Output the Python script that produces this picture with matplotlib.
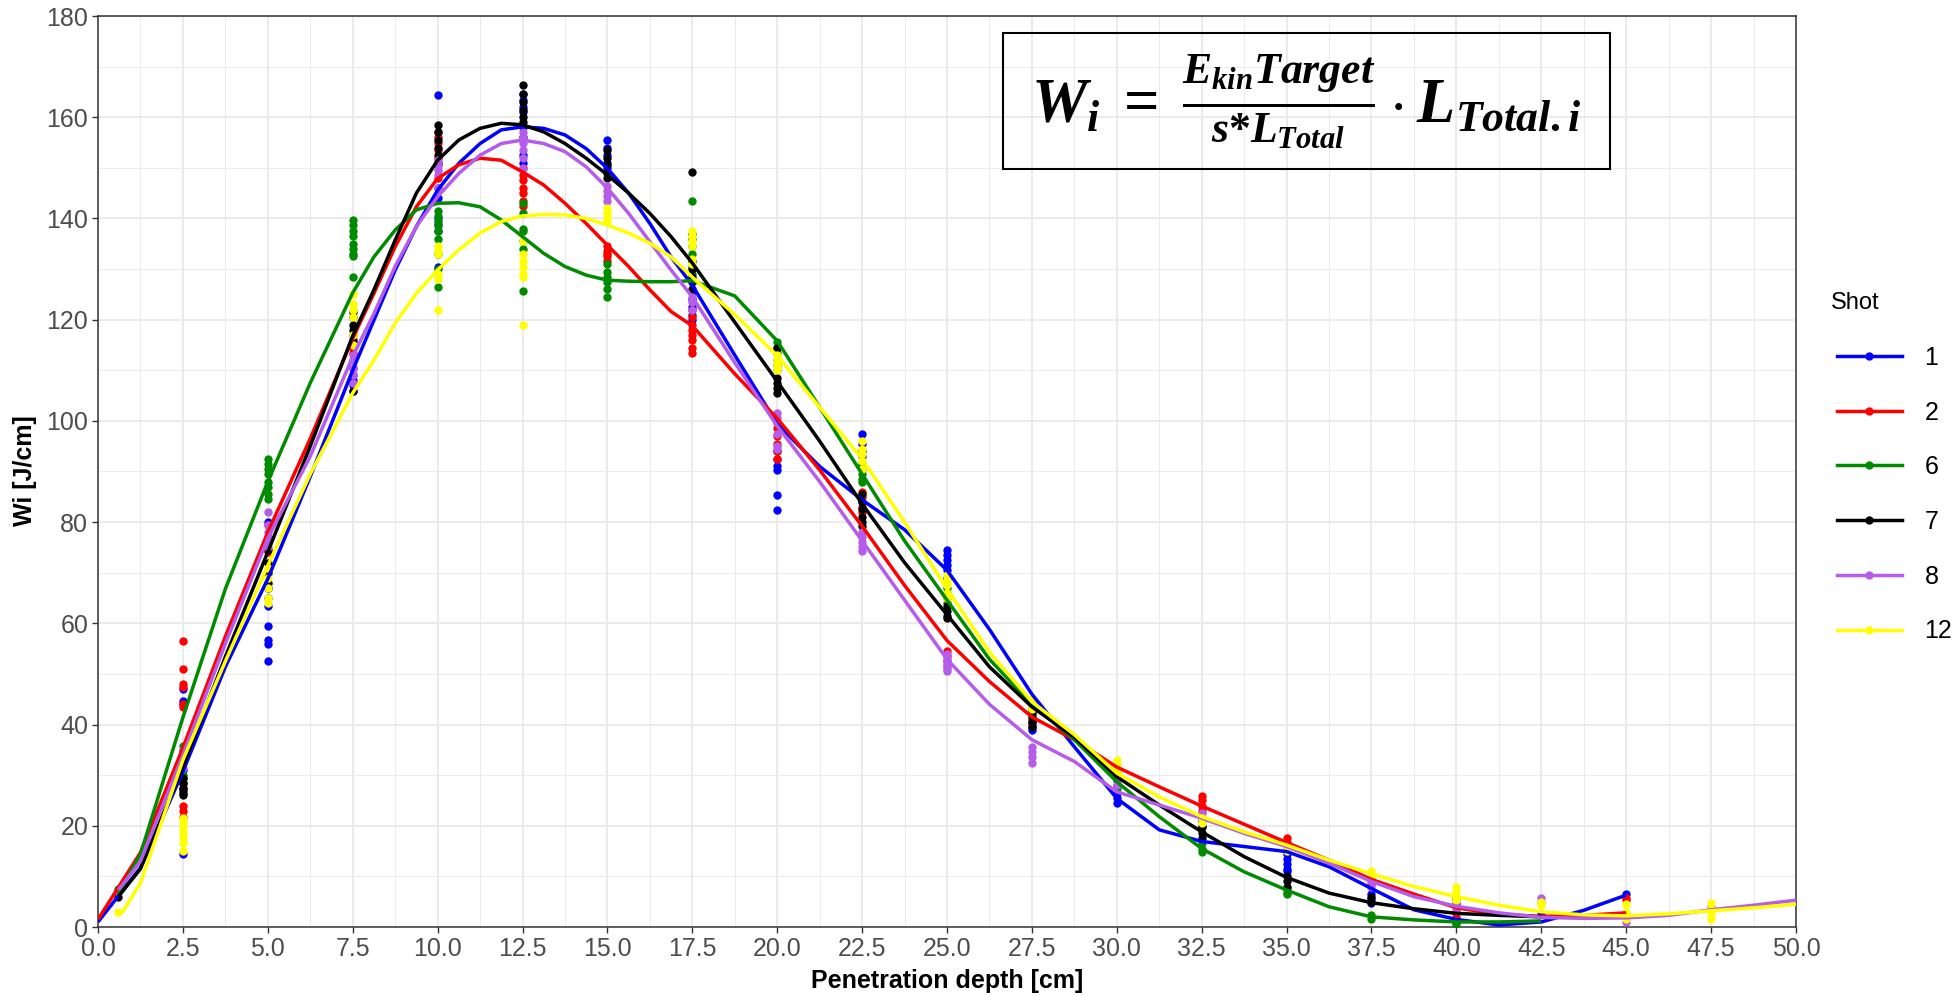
import numpy as np
import matplotlib
matplotlib.use("Agg")
import matplotlib.pyplot as plt
from matplotlib.lines import Line2D
from matplotlib.patches import Rectangle
from matplotlib.ticker import MultipleLocator, FormatStrFormatter

# shots and their colours
shots = ["1", "2", "6", "7", "8", "12"]
colors = ["#0000FF", "#FF0000", "#008B00", "#000000", "#B55CEB", "#FFFF00"]

# measured points per shot: depth [cm] -> Wi values [J/cm]
pts_1 = {2.5: [47, 44.7, 44, 33, 31, 14.4], 5: [80, 67, 65, 63.5, 59.5, 56.7, 56, 52.5],
         7.5: [110.5, 109, 108, 107, 106], 10: [164.4, 146, 144, 140, 139, 137.5, 130.5],
         12.5: [164.5, 163.5, 162, 161, 158, 156, 152.5, 151], 15: [155.5, 154, 152.5, 151, 150],
         17.5: [125.5, 124, 122.5, 121, 120], 20: [94, 92.5, 91, 90.3, 85.4, 82.4],
         22.5: [97.4, 95.5, 94, 93], 25: [74.5, 73.5, 72.5, 71.5, 70.5, 69], 27.5: [40.5, 39.5, 39],
         30: [26.5, 25.5, 24.5], 32.5: [21, 20], 35: [14.5, 13.5, 12.5, 11.5, 11],
         37.5: [6.5, 5.5, 4.7], 40: [1.5, 1], 42.5: [2.5], 45: [6.5]}
pts_2 = {2.5: [56.6, 51, 48, 47.5, 44, 43.5, 28.5, 27.5, 24, 23, 21.7], 5: [79.5, 77, 74],
         7.5: [117, 115.5, 114.5, 113.5], 10: [157, 156, 155, 153.5, 152, 150.5, 148],
         12.5: [150, 148.5, 147.5, 146, 145, 143.5, 142.5], 15: [134.5, 133.5, 133, 132.5, 131.5],
         17.5: [122, 120.5, 119, 118, 117, 116, 114.5, 113.5], 20: [98.5, 97, 95.5, 94, 92.5],
         22.5: [86, 85, 84, 83, 82], 25: [54.5, 53.5, 52.5, 51.5], 27.5: [42, 41, 40],
         30: [30.5, 29.5], 32.5: [25.8, 25, 24, 23], 35: [17.5, 16.5, 16], 37.5: [9.5, 8.5],
         40: [3, 2], 45: [5.7, 5.3]}
pts_6 = {0.6: [7.5], 2.5: [35.8, 35, 33.5, 30, 29.4, 28.5], 5: [92.5, 91.5, 90.5, 89.5, 88, 87, 85.5, 84.5],
         7.5: [139.7, 138.8, 137.5, 136.5, 135, 134, 133, 132.5, 128.5],
         10: [141.5, 140.5, 139.5, 138.5, 137.5, 136, 133, 130, 126.5],
         12.5: [143, 141, 138, 137.5, 135.5, 134, 125.7], 15: [131, 129.5, 128.5, 127.5, 126, 124.5],
         17.5: [143.4, 137, 136, 134.5, 133, 130.5, 129], 20: [115.5, 114.5, 113.5, 112, 111, 110],
         22.5: [91.5, 90.5, 89.5, 88.5, 88], 25: [67, 66, 65, 64], 27.5: [44, 43, 42],
         30: [29, 28, 27.5], 32.5: [16.6, 15.5, 14.8], 35: [7.7, 7, 6.5], 37.5: [2.4, 1.5], 40: [1, 0.5]}
pts_7 = {0.6: [6], 2.5: [29.5, 28.5, 27.5, 27, 26.5, 26], 5: [74.5, 72, 70, 68, 67],
         7.5: [121.5, 120.5, 119, 118, 116, 106], 10: [158.5, 157, 155.5, 154, 152.5, 151],
         12.5: [166.4, 164.5, 163, 161.5, 160, 159], 15: [153.5, 152, 150.5, 149, 148],
         17.5: [149.2, 131.5, 130, 128.5, 127.5, 126], 20: [114.4, 108.5, 107.5, 106.5, 105.5],
         22.5: [85.5, 84, 82.5, 81, 80, 79.2], 25: [63.5, 62.5, 61.5, 61], 27.5: [42.5, 41.5, 40.5, 39.5],
         30: [30, 29], 32.5: [19.8, 18.5, 17.6], 35: [10, 9, 8], 37.5: [6, 5], 40: [5.5, 4.5]}
pts_8 = {0.6: [7], 2.5: [35, 33, 31.5], 5: [82, 79.5, 78, 77, 76, 75], 7.5: [113, 112, 110.5, 109, 107.5],
         10: [151.5, 150.5, 149.5, 148.5, 146], 12.5: [157, 156, 155, 153.5, 152, 150],
         15: [146.5, 145.5, 144.5, 143.5], 17.5: [124.5, 123.5, 122],
         20: [101.5, 100.5, 99.5, 97.5, 95, 94.5], 22.5: [78, 77, 76, 75, 74.2],
         25: [54, 53, 52, 51, 50.5], 27.5: [35.5, 34.5, 33.5, 32.5], 30: [29, 28], 32.5: [22.5, 21.5],
         35: [15.5], 37.5: [9, 8], 40: [4.8, 3.5], 42.5: [5.7, 5], 45: [2.5, 1], 47.5: [4]}
pts_12 = {0.6: [3], 2.5: [21.5, 20.5, 19.5, 18.5, 17.5, 16.5, 15], 5: [71, 69, 67, 65, 64],
          7.5: [125, 123, 122, 120.5, 117, 115], 10: [134.5, 133.5, 133, 129, 128, 122],
          12.5: [135.5, 133, 131.5, 130.5, 129, 128.5, 119], 15: [142, 141, 140, 139.5],
          17.5: [137.5, 136.5, 135.5, 134.5, 132, 131], 20: [113, 112, 111, 110],
          22.5: [96, 94.5, 93.5, 92, 90.5], 25: [69.5, 68.5, 67.5, 66, 65], 27.5: [45, 44, 43],
          30: [33, 32, 31.5, 30.5], 32.5: [21.5, 20.5], 35: [16, 15], 37.5: [11, 10, 9.7],
          40: [8, 7, 6, 5.3], 42.5: [5, 4.3], 45: [4.5, 3, 1.5], 47.5: [4.8, 3.5, 2.5, 1.5]}

depth_lo = [1.25, 2.5, 3.75, 5, 6.25]
depth_mid = [7.5, 8.125, 8.75, 9.375, 10, 10.625, 11.25, 11.875, 12.5, 13.125, 13.75,
             14.375, 15, 15.625, 16.25, 16.875, 17.5]
depth_hi = [18.75, 20, 21.25, 22.5, 23.75, 25, 26.25, 27.5, 28.75, 30, 31.25, 32.5, 33.75,
            35, 36.25, 37.5, 38.75, 40, 41.25, 42.5, 43.75, 45, 46.25, 47.5, 48.75, 50]

# smoothed curves: start point, then values at depth_lo, depth_mid, depth_hi
start_1, lo_1 = (0, 1), [11.7, 30.7, 51.4, 68.8, 89]
mid_1 = [110, 119.9, 129.8, 138.4, 145.6, 150.9, 154.8, 157.5, 158.1, 157.8, 156.5, 153.8,
         149.9, 145, 139, 132.4, 126.8]
hi_1 = [113, 99.4, 91, 84.4, 78.5, 70.5, 58.8, 46, 35.6, 25.4, 19.2, 16.9, 15.9, 14.9, 11.9,
        7.6, 3.4, 1.5, 0.4, 1.0, 3.3, 6.3]
start_2, lo_2 = (0, 1.5), [14.7, 35.4, 57.4, 78, 96.5]
mid_2 = [116.3, 125.2, 134.4, 142.3, 147.9, 150.6, 151.9, 151.5, 149.2, 146.6, 143, 139,
         134.7, 130.5, 125.9, 121.6, 118.8]
hi_2 = [109.3, 100.5, 90.3, 79.2, 67.5, 56.6, 48.5, 41.5, 37, 31.6, 27.7, 23.9, 20.3, 16.7,
        13.2, 9.4, 6.5, 3.8, 2.5, 2.1, 2.3, 2.8]
start_6, lo_6 = (0.6, 6.5), [14.4, 41.4, 66.8, 88, 107.5]
mid_6 = [125.3, 132.4, 137.7, 141.7, 143, 143.1, 142.3, 139.7, 136.4, 133.1, 130.5, 128.8,
         127.8, 127.6, 127.5, 127.5, 127.7]
hi_6 = [124.7, 115.8, 102.7, 89.5, 76.3, 64.6, 52.9, 44, 37, 28.7, 21.8, 15.5, 10.9, 7.3, 4,
        2, 1.4, 1, 1, 1.2]
start_7, lo_7 = (0.6, 6), [11.5, 31.7, 53.4, 74.1, 95]
mid_7 = [116.8, 125.9, 135.7, 145, 151.5, 155.5, 157.8, 158.8, 158.5, 157.1, 154.8, 151.9,
         148.6, 145, 141, 136.4, 131.2]
hi_7 = [119.5, 107.8, 96, 83.6, 72, 61.7, 51.4, 43.5, 37.5, 29.7, 24.1, 18.8, 13.9, 9.8, 6.7,
        4.8, 3.6, 2.7, 2.3, 2]
start_8, lo_8 = (0.6, 7.3), [13, 34, 56, 76.8, 93]
mid_8 = [112.7, 121.2, 130.5, 138.4, 144.3, 148.9, 152.5, 154.8, 155.5, 154.8, 153.2, 150.2,
         146, 141, 135.4, 129.8, 124.5]
hi_8 = [111.5, 99, 88, 76.3, 64.6, 52.9, 44, 37, 32.7, 26.7, 24.1, 21.5, 18.5, 15.9, 12.6,
        9, 6, 4.1, 2.8, 1.9, 1.7, 1.8, 2.3, 3.4, 4.3, 5.3]
start_12, lo_12 = (0.7, 2.7), [8.7, 33, 52.5, 71.4, 89.5]
mid_12 = [105.5, 112, 119.3, 125.2, 129.8, 133.8, 137.1, 139.4, 140.5, 140.8, 140.7, 140,
          138.7, 137.1, 135.1, 132.4, 128.4]
hi_12 = [121, 112.9, 102.7, 92.5, 80, 66.8, 54.3, 44.5, 38, 30.4, 25.7, 21.8, 18.8, 16.2,
         13.2, 10.5, 8, 6, 4.3, 3, 2.4, 2.2, 2.6, 3.2, 3.8, 4.5]

points = [pts_1, pts_2, pts_6, pts_7, pts_8, pts_12]
curves = [(start_1, lo_1, mid_1, hi_1), (start_2, lo_2, mid_2, hi_2), (start_6, lo_6, mid_6, hi_6),
          (start_7, lo_7, mid_7, hi_7), (start_8, lo_8, mid_8, hi_8), (start_12, lo_12, mid_12, hi_12)]

plt.rcParams["font.family"] = ["Liberation Sans", "DejaVu Sans"]
plt.rcParams["mathtext.fontset"] = "custom"
plt.rcParams["mathtext.it"] = "Liberation Serif:italic:bold"
plt.rcParams["mathtext.rm"] = "Liberation Serif:bold"
plt.rcParams["mathtext.bf"] = "Liberation Serif:bold"

W, H = 1958, 996
fig = plt.figure(figsize=(W / 100, H / 100), dpi=100)
ax = fig.add_axes([98 / W, 69 / H, (1796 - 98) / W, (927 - 16) / H])

# points first, then the smooth lines on top (ggplot layer order)
for pts, c in zip(points, colors):
    xs = [x for x, v in pts.items() for _ in v]
    ys = [y for v in pts.values() for y in v]
    ax.scatter(xs, ys, s=36, color=c, linewidths=0, zorder=3)
for (st, lo, mid, hi), c in zip(curves, colors):
    cx = [st[0]] + depth_lo + depth_mid + depth_hi[:len(hi)]
    cy = [st[1]] + lo + mid + hi
    ax.plot(cx, cy, color=c, lw=2.5, zorder=4, solid_joinstyle="round", solid_capstyle="butt")

ax.set_xlim(0, 50)
ax.set_ylim(0, 180)
ax.xaxis.set_major_locator(MultipleLocator(2.5))
ax.xaxis.set_minor_locator(MultipleLocator(1.25))
ax.yaxis.set_major_locator(MultipleLocator(20))
ax.yaxis.set_minor_locator(MultipleLocator(10))
ax.xaxis.set_major_formatter(FormatStrFormatter("%.1f"))
ax.grid(which="major", color="#EBEBEB", lw=1.4)
ax.grid(which="minor", color="#EBEBEB", lw=0.7)
ax.set_axisbelow(True)
ax.tick_params(which="major", length=4, width=1, color="#333333", labelsize=18,
               labelcolor="#4D4D4D", pad=3)
ax.tick_params(which="minor", length=0)
for sp in ax.spines.values():
    sp.set_color("#333333")
    sp.set_linewidth(1.1)

fig.text(947 / W, 1 - 981 / H, "Penetration depth [cm]", fontsize=18, fontweight="bold",
         ha="center", va="center")
fig.text(25 / W, 1 - 471 / H, "Wi [J/cm]", fontsize=18, fontweight="bold",
         ha="center", va="center", rotation=90)

# formula box
fig.patches.append(Rectangle((1003 / W, 1 - 169 / H), 607 / W, 136 / H, transform=fig.transFigure,
                             fill=False, edgecolor="black", lw=1.5))
fig.text(1306 / W, 1 - 101 / H,
         r"$W_i\;=\;\frac{E_{kin}Target}{s{*}L_{Total}} \cdot L_{Total.i}$",
         fontsize=45, ha="center", va="center")

handles = [Line2D([], [], color=c, lw=2.5, marker="o", markersize=5) for c in colors]
fig.legend(handles, shots, title=" ", loc="upper left", bbox_to_anchor=(1837 / W, 1 - 293 / H),
           frameon=False, fontsize=18, title_fontsize=17, handlelength=2.6, handletextpad=0.9,
           labelspacing=1.23, borderpad=0, borderaxespad=0, alignment="left")
fig.text(1831 / W, 1 - 303 / H, "Shot", fontsize=17, ha="left", va="center")

fig.savefig("out.png", dpi=100)
